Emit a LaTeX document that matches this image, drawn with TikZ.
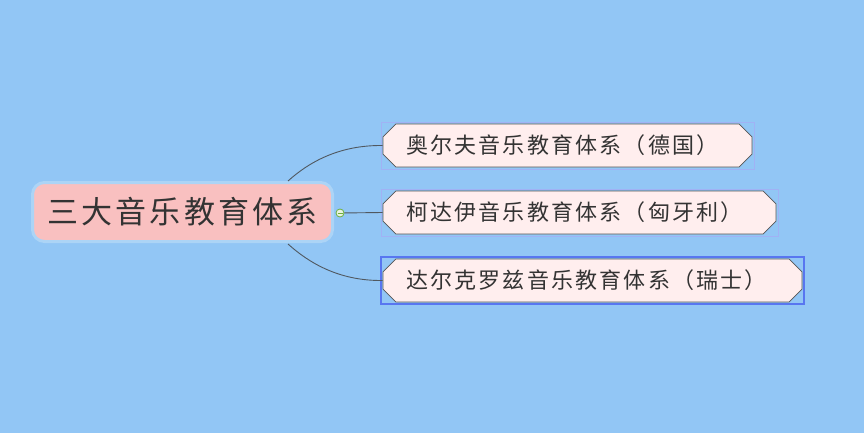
\documentclass[tikz,border=0pt]{standalone}
\usepackage{fontspec}
\newfontfamily\cjk[LetterSpace=10]{Noto Sans CJK SC}
\usetikzlibrary{shapes.misc,fit,calc}
\definecolor{bgblue}{RGB}{146,198,245}
\definecolor{rootfill}{RGB}{249,192,192}
\definecolor{rootline}{RGB}{172,212,246}
\definecolor{leaffill}{RGB}{255,238,238}
\definecolor{leafline}{RGB}{85,85,85}
\definecolor{txt}{RGB}{51,51,51}
\definecolor{selfaint}{RGB}{160,178,245}
\definecolor{selblue}{RGB}{88,118,240}
\definecolor{link}{RGB}{80,88,96}
\definecolor{foldgreen}{RGB}{110,176,60}
\begin{document}
\begin{tikzpicture}[
    x=1pt, y=-1pt,
    root/.style={rectangle, rounded corners=12pt, draw=rootline, line width=3pt, fill=rootfill,
        minimum width=300pt, minimum height=59pt, inner sep=0pt, text=txt,
        font=\cjk\fontsize{31}{31}\selectfont},
    leaf/.style={chamfered rectangle, chamfered rectangle xsep=10pt, draw=leafline, line width=0.8pt,
        fill=leaffill, minimum height=43pt, inner xsep=13pt, inner ysep=0pt, align=left, text=txt,
        font=\cjk\fontsize{22}{22}\selectfont},
    sel/.style={rectangle, draw=#1, inner sep=1.5pt},
    fold/.style={circle, draw=foldgreen, fill=white!85!foldgreen, line width=0.8pt,
        minimum size=8pt, inner sep=0pt},
    link/.style={draw=link, line width=0.9pt}
]
\useasboundingbox[fill=bgblue] (0,0) rectangle (864,433);

% central topic
\node[root] (root) at (182.5,212) {三大音乐教育体系};
\node[fold] (fold) at (340,213) {};
\draw[foldgreen, line width=0.8pt] ($(fold.center)+(-2.5,0)$) -- ($(fold.center)+(2.5,0)$);

% sub topics
\node[leaf, text width=323pt] (orff) at (567.5,145.5) {奥尔夫音乐教育体系（德国）};
\node[leaf, text width=347pt] (kodaly) at (579.5,212.5) {柯达伊音乐教育体系（匈牙利）};
\node[leaf, text width=373pt] (dalcroze) at (592.5,280.5) {达尔克罗兹音乐教育体系（瑞士）};

\node[sel=selfaint, fit=(orff)] (selorff) {};
\node[sel=selfaint, fit=(kodaly)] (selkodaly) {};
\node[sel=selblue, line width=1.5pt, fit=(dalcroze)] (seldalcroze) {};

% branches
\coordinate (up) at (288,181);
\coordinate (down) at (288,244);
\draw[link] (up) .. controls (308,163) and (338,145) .. (orff.west);
\draw[link] (fold) -- (kodaly.west);
\draw[link] (down) .. controls (308,262) and (338,281) .. (dalcroze.west);

\end{tikzpicture}
\end{document}
